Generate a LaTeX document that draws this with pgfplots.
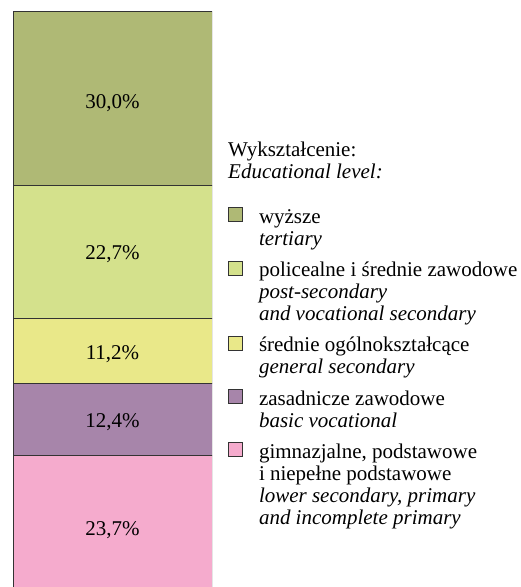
\documentclass[border=0pt]{standalone}
\usepackage{fontspec}
\setmainfont{Liberation Serif}
\usepackage{pgfplots}
\pgfplotsset{compat=1.18}
\definecolor{tert}{HTML}{AFB975}
\definecolor{post}{HTML}{D4E18C}
\definecolor{gens}{HTML}{E9E889}
\definecolor{basv}{HTML}{A785AA}
\definecolor{lows}{HTML}{F5ABCD}
\definecolor{edge}{HTML}{333333}
\pgfplotsset{
  sqleg/.style={legend image code/.code={
    \draw[draw=edge,line width=0.8pt,##1] (0pt,-15.9pt) rectangle (14pt,-1.9pt);}},
  % value label in its segment: #1 text, #2 small vertical nudge
  lab/.style 2 args={nodes near coords={#1},
    every node near coord/.append style={anchor=center, yshift=-#2,
      draw=none, fill=none, text=black, inner sep=0pt,
      font=\fontsize{21}{22}\selectfont}},
}
\newcommand{\ml}[1]{\begin{tabular}[t]{@{}l@{}}#1\end{tabular}}

\begin{document}
\fontsize{21}{22}\selectfont
\begin{tikzpicture}
\begin{axis}[
    scale only axis,
    width=199pt, height=576pt,
    ybar stacked,
    bar width=1,
    xmin=-0.5, xmax=0.5,
    ymin=1.2, ymax=100,
    axis lines=none,
    clip=true,
    every axis plot/.append style={draw=edge, line width=0.8pt},
    legend style={draw=none, fill=none, inner sep=0pt,
        at={(axis description cs:1.0804,0.6622)}, anchor=north west,
        font=\fontsize{21}{22}\selectfont,
        column sep=14pt, row sep=8.5pt,
        cells={anchor=north west, inner sep=0pt, align=left}},
]
% legend entries, top to bottom
\addlegendimage{sqleg, fill=tert}
\addlegendentry{\strut wyższe\\\textit{tertiary}\strut}
\addlegendimage{sqleg, fill=post}
\addlegendentry{\strut policealne i średnie zawodowe\\\textit{post-secondary}\\\textit{and vocational secondary}\strut}
\addlegendimage{sqleg, fill=gens}
\addlegendentry{\strut średnie ogólnokształcące\\\textit{general secondary}\strut}
\addlegendimage{sqleg, fill=basv}
\addlegendentry{\strut zasadnicze zawodowe\\\textit{basic vocational}\strut}
\addlegendimage{sqleg, fill=lows}
\addlegendentry{\strut gimnazjalne, podstawowe\\i niepełne podstawowe\\\textit{lower secondary, primary}\\\textit{and incomplete primary}\strut}

% stacked shares, bottom to top
\addplot[fill=lows, forget plot, lab={23,7\%}{5.5pt}] coordinates {(0,23.7)};
\addplot[fill=basv, forget plot, lab={12,4\%}{2.1pt}] coordinates {(0,12.4)};
\addplot[fill=gens, forget plot, lab={11,2\%}{3.3pt}] coordinates {(0,11.2)};
\addplot[fill=post, forget plot, lab={22,7\%}{2.1pt}] coordinates {(0,22.7)};
\addplot[fill=tert, forget plot, lab={30,0\%}{4.7pt}] coordinates {(0,30.0)};
\end{axis}
\node[anchor=base west, inner sep=0pt] at (215pt,430pt)
    {\ml{Wykształcenie:\\\textit{Educational level:}}};
\pgfresetboundingbox
\path[use as bounding box] (-13pt,0pt) rectangle (508pt,587pt);
\end{tikzpicture}
\end{document}
